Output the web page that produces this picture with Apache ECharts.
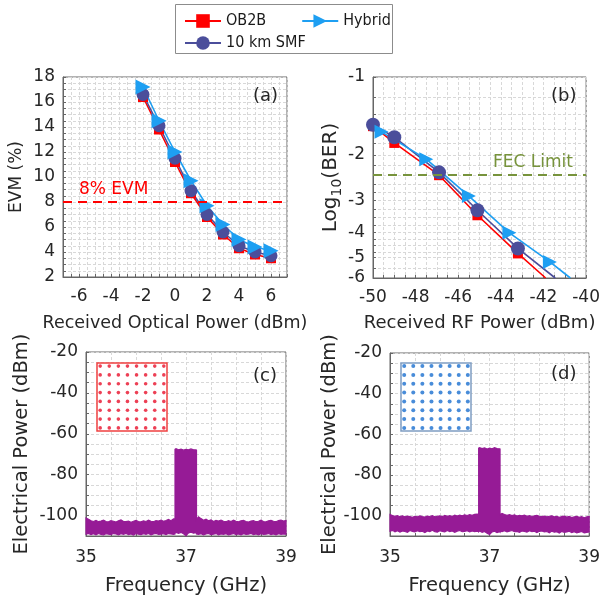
<!DOCTYPE html>
<html>
<head>
<meta charset="utf-8">
<script src="https://cdn.jsdelivr.net/npm/echarts@6/dist/echarts.min.js"></script>
<style>
  html, body { margin: 0; padding: 0; background: #ffffff; }
  #chart { width: 603px; height: 600px; }
</style>
</head>
<body>
<div id="chart"></div>
<script>
// ---------- (a) EVM versus received optical power ----------
const evmPower  = [-2, -1, 0, 1, 2, 3, 4, 5, 6];
const evmOB2B   = [16.4, 13.8, 11.2, 8.7, 6.8, 5.4, 4.3, 3.8, 3.5];
const evmSMF    = [16.6, 14.1, 11.5, 8.9, 7.0, 5.6, 4.5, 4.0, 3.7];
const evmHybrid = [17.2, 14.5, 12.0, 9.7, 7.7, 6.2, 5.0, 4.4, 4.1];
const evmLimit  = 8;
const opticalTicks = [-6, -4, -2, 0, 2, 4, 6];
const evmTicks     = [2, 4, 6, 8, 10, 12, 14, 16, 18];

// ---------- (b) log10(BER) versus received RF power ----------
const rfOB2B    = [-50, -49, -46.9, -45.1, -43.2];
const berOB2B   = [-1.55, -1.80, -2.40, -3.43, -4.82];
const endOB2B   = [-41.9, -6];
const rfSMF     = [-50, -49, -46.9, -45.1, -43.2];
const berSMF    = [-1.53, -1.71, -2.34, -3.28, -4.61];
const endSMF    = [-41.45, -6];
const rfHybrid  = [-49.6, -47.5, -45.5, -43.6, -41.7];
const berHybrid = [-1.63, -2.08, -2.89, -4.01, -5.20];
const endHybrid = [-40.74, -6];
const rfTicks   = [-50, -48, -46, -44, -42, -40];
const berTicks  = [-1, -2, -3, -4, -5, -6];
const berGrid   = [-1, -1.2, -1.4, -1.6, -1.8, -2, -2.2, -2.4, -2.6, -2.8, -3,
                   -3.25, -3.5, -3.75, -4, -4.25, -4.5, -4.75, -5, -5.5, -6];
const fecLimit  = -2.42;

// ---------- (c), (d) received electrical spectra ----------
const freqTicks  = [35, 37, 39];
const powerTicks = [-100, -80, -60, -40, -20];
const freqGHz = [
  35.00,35.05,35.10,35.15,35.20,35.25,35.30,35.35,35.40,35.45,
  35.50,35.55,35.60,35.65,35.70,35.75,35.80,35.85,35.90,35.95,
  36.00,36.05,36.10,36.15,36.20,36.25,36.30,36.35,36.40,36.45,
  36.50,36.55,36.60,36.65,36.70,36.75,
  36.78,36.78,
  36.80,36.85,36.90,36.95,37.00,37.05,37.10,37.15,37.20,
  37.21,37.21,
  37.25,37.30,37.35,37.40,37.45,37.50,37.55,37.60,37.65,37.70,
  37.75,37.80,37.85,37.90,37.95,38.00,38.05,38.10,38.15,38.20,
  38.25,38.30,38.35,38.40,38.45,38.50,38.55,38.60,38.65,38.70,
  38.75,38.80,38.85,38.90,38.95,39.00
];
const specUpperC = [
  -101.2,-101.8,-102.6,-102.9,-102.4,-103.0,-102.7,-102.2,-102.9,-103.1,
  -102.5,-102.8,-103.2,-102.6,-102.1,-102.9,-103.0,-102.7,-103.3,-102.8,
  -102.4,-102.9,-103.1,-102.6,-102.9,-102.3,-102.8,-103.0,-102.5,-102.7,
  -102.2,-102.8,-102.4,-101.9,-102.5,-101.6,
  -101.8,-67.6,
  -67.3,-67.8,-67.5,-68.0,-67.6,-67.9,-67.4,-67.8,-67.9,
  -68.0,-102.0,
  -100.6,-101.5,-102.3,-101.8,-102.6,-102.1,-102.9,-102.4,-102.7,-102.2,
  -102.8,-103.0,-102.5,-102.9,-102.3,-102.8,-103.1,-102.6,-102.4,-102.9,
  -103.2,-102.7,-102.5,-103.0,-102.8,-102.3,-102.9,-103.1,-102.6,-102.4,
  -102.8,-103.0,-102.5,-102.2,-102.7,-102.4
];
const specLowerC = [
  -109.1,-108.7,-109.3,-108.9,-109.4,-108.8,-109.2,-109.5,-108.9,-109.1,
  -109.3,-108.8,-109.0,-109.4,-108.9,-109.2,-108.7,-109.3,-109.0,-109.5,
  -108.8,-109.1,-109.3,-108.9,-109.2,-108.8,-109.4,-109.0,-108.7,-109.2,
  -109.1,-108.9,-109.3,-108.8,-109.0,-109.2,
  -109.0,-108.6,
  -108.3,-108.7,-108.2,-108.9,-109.8,-108.5,-108.1,-108.6,-108.4,
  -108.5,-109.0,
  -109.2,-108.9,-109.4,-109.0,-108.7,-109.3,-109.1,-108.8,-109.4,-109.0,
  -109.2,-108.9,-109.5,-109.1,-108.8,-109.3,-109.0,-109.4,-108.9,-109.2,
  -109.1,-108.7,-109.3,-109.0,-109.4,-108.9,-109.2,-109.1,-108.8,-109.3,
  -109.0,-109.4,-108.9,-109.2,-109.0,-109.1
];
const specUpperD = [
  -99.4,-99.9,-100.3,-100.0,-100.5,-100.1,-100.6,-100.2,-100.4,-100.8,
  -100.3,-100.6,-100.1,-100.5,-100.7,-100.2,-100.4,-100.0,-100.6,-100.3,
  -100.1,-100.5,-99.9,-100.3,-100.0,-100.4,-99.8,-100.2,-99.7,-100.1,
  -99.6,-99.9,-99.5,-99.8,-99.4,-99.2,
  -99.3,-66.8,
  -66.6,-67.0,-66.7,-67.2,-66.8,-67.1,-66.6,-67.0,-67.1,
  -67.2,-99.6,
  -98.9,-99.4,-99.8,-99.5,-100.0,-99.6,-100.2,-99.8,-100.1,-99.7,
  -100.3,-100.0,-100.4,-100.1,-99.8,-100.3,-100.5,-100.2,-100.6,-100.3,
  -100.1,-100.6,-100.4,-100.8,-100.5,-100.2,-100.7,-100.4,-100.9,-100.6,
  -100.3,-100.8,-100.5,-101.0,-100.6,-100.4
];
const specLowerD = [
  -107.6,-107.2,-107.9,-107.4,-108.1,-107.5,-107.8,-108.2,-107.3,-107.7,
  -108.0,-107.4,-107.9,-107.6,-108.3,-107.5,-107.8,-107.2,-107.9,-108.1,
  -107.4,-107.7,-108.0,-107.3,-107.8,-107.5,-108.2,-107.6,-107.3,-107.9,
  -107.7,-107.4,-108.0,-107.5,-107.8,-107.6,
  -107.7,-107.9,
  -107.5,-108.2,-107.8,-108.6,-109.3,-108.0,-107.6,-108.3,-107.9,
  -108.1,-107.6,
  -107.8,-107.4,-108.0,-107.6,-107.3,-107.9,-107.7,-108.2,-107.5,-107.8,
  -108.1,-107.4,-107.9,-107.6,-108.3,-107.7,-107.5,-108.0,-107.8,-108.4,
  -107.6,-108.1,-107.9,-108.5,-107.7,-108.2,-108.0,-107.6,-108.3,-107.9,
  -108.4,-108.1,-107.8,-108.5,-108.2,-108.0
];

// 64-QAM constellation levels (I and Q)
const qamLevels = [-7, -5, -3, -1, 1, 3, 5, 7];

// ---------- styling ----------
const FONT = 'DejaVu Sans';
const LEGEND_FONT = 'DejaVu Sans Condensed, DejaVu Sans';
const TEXT = '#262626';
const RED = '#ff0000';
const SMF_BLUE = '#4b4e9b';
const HYB_BLUE = '#1e9ff2';
const PURPLE = '#961b96';
const FEC_GREEN = '#77933c';

// log10(BER) is shown on a log10(-log10 BER) scale
const berT = v => Math.log10(-v);

function labelAt(ticks) {
  return v => (ticks.some(t => Math.abs(t - v) < 1e-6) ? String(Math.round(v)) : '');
}

function axis(o) {
  return {
    type: 'value',
    gridIndex: o.grid,
    min: o.min, max: o.max, interval: o.interval,
    inverse: !!o.inverse,
    name: o.name, nameLocation: 'middle', nameGap: o.nameGap,
    nameTextStyle: Object.assign({ color: TEXT, fontFamily: FONT, fontSize: o.nameSize || 18 }, o.nameStyle || {}),
    axisLine: { show: true, onZero: false, lineStyle: { color: '#666', width: 1 } },
    axisTick: Object.assign({ show: true, inside: true, length: 3, lineStyle: { color: '#666' } }, o.tick || {}),
    axisLabel: Object.assign({ color: TEXT, fontFamily: FONT, fontSize: 17, margin: o.margin,
                               formatter: o.formatter }, o.label || {}),
    splitLine: { show: true, lineStyle: { color: '#d8d8d8', width: 1, type: [3, 2] } }
  };
}

function hiddenAxis(grid) {
  return { type: 'value', gridIndex: grid, min: -7.7, max: 7.7, show: false,
           splitLine: { show: false } };
}

const pairs = (xs, ys) => xs.map((x, i) => [x, ys[i]]);
const berPairs = (xs, ys, end) =>
  xs.map((x, i) => [x, berT(ys[i])]).concat([{ value: [end[0], berT(end[1])], symbol: 'none' }]);

function bandRenderer(upper, lower) {
  return function (params, api) {
    if (params.dataIndex !== 0) return { type: 'group', children: [] };
    const pts = [];
    for (let i = 0; i < freqGHz.length; i++) pts.push(api.coord([freqGHz[i], upper[i]]));
    for (let i = freqGHz.length - 1; i >= 0; i--) pts.push(api.coord([freqGHz[i], lower[i]]));
    return { type: 'polygon', shape: { points: pts },
             style: { fill: PURPLE, stroke: PURPLE, lineWidth: 1.2 } };
  };
}

const constellation = [];
qamLevels.forEach(i => qamLevels.forEach(q => constellation.push([i, q])));

const markerSeries = (name, color, symbol, size, rotate, ax, data, extra) => Object.assign({
  name, type: 'line', xAxisIndex: ax, yAxisIndex: ax, data,
  symbol, symbolSize: size, symbolRotate: rotate, showSymbol: true,
  itemStyle: { color }, lineStyle: { color, width: 1.6 }, z: 3
}, extra || {});

const legendText = { color: '#1a1a1a', fontFamily: LEGEND_FONT, fontSize: 16 };

const option = {
  animation: false,
  backgroundColor: '#ffffff',
  textStyle: { fontFamily: FONT },
  grid: [
    { left: 63, top: 77, width: 224, height: 200, show: true, borderColor: '#666', borderWidth: 1 },
    { left: 373, top: 77, width: 217, height: 201, show: true, borderColor: '#666', borderWidth: 1 },
    { left: 86, top: 352, width: 200, height: 184, show: true, borderColor: '#666', borderWidth: 1 },
    { left: 390, top: 353, width: 201, height: 183, show: true, borderColor: '#666', borderWidth: 1 },
    { left: 97, top: 363, width: 70, height: 68, show: true, z: 3,
      backgroundColor: '#ffffff', borderColor: '#f04040', borderWidth: 1.5 },
    { left: 401, top: 363, width: 70, height: 68, show: true, z: 3,
      backgroundColor: '#ffffff', borderColor: '#7f9dc2', borderWidth: 1.5 }
  ],
  xAxis: [
    axis({ grid: 0, min: -7, max: 7, interval: 0.5, formatter: labelAt(opticalTicks), margin: 11,
           name: 'Received Optical Power (dBm)', nameGap: 37, nameSize: 17.5 }),
    axis({ grid: 1, min: -50, max: -40, interval: 0.5, formatter: labelAt(rfTicks), margin: 11,
           name: 'Received RF Power (dBm)', nameGap: 36 }),
    axis({ grid: 2, min: 35, max: 39, interval: 0.5, formatter: labelAt(freqTicks), margin: 13,
           name: 'Frequency (GHz)', nameGap: 40, nameSize: 19.5 }),
    axis({ grid: 3, min: 35, max: 39, interval: 0.5, formatter: labelAt(freqTicks), margin: 13,
           name: 'Frequency (GHz)', nameGap: 40, nameSize: 19.5 }),
    hiddenAxis(4), hiddenAxis(5)
  ],
  yAxis: [
    axis({ grid: 0, min: 2, max: 18, interval: 0.5, formatter: labelAt(evmTicks), margin: 8,
           name: 'EVM (%)', nameGap: 38, nameSize: 17 }),
    axis({ grid: 1, min: 0, max: berT(-6), inverse: true, margin: 8,
           formatter: v => String(-Math.round(Math.pow(10, v))),
           label: { customValues: berTicks.map(berT) },
           tick: { customValues: berGrid.map(berT) },
           name: 'Log{sub|10}(BER)', nameGap: 29, nameSize: 20,
           nameStyle: { rich: { sub: { fontSize: 14, fontFamily: FONT, color: TEXT, padding: [12, 0, 0, 0] } } } }),
    axis({ grid: 2, min: -110, max: -20, interval: 5, formatter: labelAt(powerTicks), margin: 8,
           name: 'Electrical Power (dBm)', nameGap: 54, nameSize: 19.5 }),
    axis({ grid: 3, min: -110, max: -20, interval: 5, formatter: labelAt(powerTicks), margin: 8,
           name: 'Electrical Power (dBm)', nameGap: 49, nameSize: 19.5 }),
    hiddenAxis(4), hiddenAxis(5)
  ],
  legend: [
    { left: 179, top: 8, itemGap: 35, itemWidth: 36, itemHeight: 17, z: 6,
      data: ['OB2B', 'Hybrid'], textStyle: legendText },
    { left: 179, top: 30, itemWidth: 36, itemHeight: 17, z: 6,
      data: ['10 km SMF'], textStyle: legendText }
  ],
  graphic: [
    { type: 'rect', z: 1, shape: { x: 175.5, y: 4.5, width: 217, height: 49 },
      style: { fill: '#ffffff', stroke: '#8c8c8c', lineWidth: 1 } },
    { type: 'text', z: 10, x: 253, y: 96, style: { text: '(a)', fontFamily: FONT, fontSize: 18, fill: TEXT, verticalAlign: 'middle' } },
    { type: 'text', z: 10, x: 551, y: 96, style: { text: '(b)', fontFamily: FONT, fontSize: 18, fill: TEXT, verticalAlign: 'middle' } },
    { type: 'text', z: 10, x: 253, y: 376, style: { text: '(c)', fontFamily: FONT, fontSize: 18, fill: TEXT, verticalAlign: 'middle' } },
    { type: 'text', z: 10, x: 551, y: 374, style: { text: '(d)', fontFamily: FONT, fontSize: 18, fill: TEXT, verticalAlign: 'middle' } },
    { type: 'text', z: 10, x: 79, y: 190, style: { text: '8% EVM', fontFamily: FONT, fontSize: 17, fill: RED, verticalAlign: 'middle' } },
    { type: 'text', z: 10, x: 493, y: 163, style: { text: 'FEC Limit', fontFamily: FONT, fontSize: 17, fill: FEC_GREEN, verticalAlign: 'middle' } }
  ],
  series: [
    // (a)
    markerSeries('OB2B', RED, 'rect', 10, 0, 0, pairs(evmPower, evmOB2B), {
      markLine: { silent: true, symbol: 'none', label: { show: false },
                  lineStyle: { color: RED, width: 2, type: [9, 6] },
                  data: [{ yAxis: evmLimit }] }
    }),
    markerSeries('10 km SMF', SMF_BLUE, 'circle', 13, 0, 0, pairs(evmPower, evmSMF)),
    markerSeries('Hybrid', HYB_BLUE, 'triangle', 15, -90, 0, pairs(evmPower, evmHybrid)),
    // (b)
    markerSeries('OB2B', RED, 'rect', 10, 0, 1, berPairs(rfOB2B, berOB2B, endOB2B), {
      markLine: { silent: true, symbol: 'none', label: { show: false },
                  lineStyle: { color: FEC_GREEN, width: 2, type: [9, 6] },
                  data: [{ yAxis: berT(fecLimit) }] }
    }),
    markerSeries('10 km SMF', SMF_BLUE, 'circle', 14, 0, 1, berPairs(rfSMF, berSMF, endSMF)),
    markerSeries('Hybrid', HYB_BLUE, 'triangle', 14, -90, 1, berPairs(rfHybrid, berHybrid, endHybrid)),
    // (c), (d) spectra
    { type: 'custom', xAxisIndex: 2, yAxisIndex: 2, silent: true,
      data: pairs(freqGHz, specUpperC), renderItem: bandRenderer(specUpperC, specLowerC) },
    { type: 'custom', xAxisIndex: 3, yAxisIndex: 3, silent: true,
      data: pairs(freqGHz, specUpperD), renderItem: bandRenderer(specUpperD, specLowerD) },
    // constellation insets
    { type: 'scatter', xAxisIndex: 4, yAxisIndex: 4, z: 5, silent: true, symbolSize: 3.6,
      itemStyle: { color: '#e8102a' }, data: constellation },
    { type: 'scatter', xAxisIndex: 5, yAxisIndex: 5, z: 5, silent: true, symbolSize: 4,
      itemStyle: { color: '#1a6fd0' }, data: constellation }
  ]
};

const chart = echarts.init(document.getElementById('chart'), null, { renderer: 'canvas' });
chart.setOption(option);
</script>
</body>
</html>
